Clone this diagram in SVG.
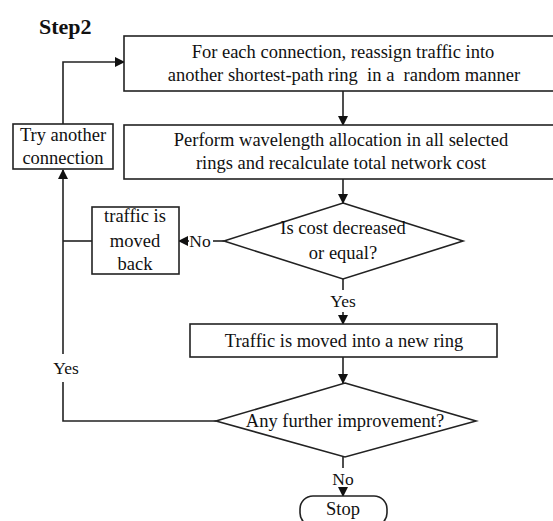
<svg xmlns="http://www.w3.org/2000/svg" width="553" height="521" viewBox="0 0 553 521">
<style>
.n{fill:#fff;stroke:#222;stroke-width:1.6}
.c{fill:none;stroke:#222;stroke-width:1.6}
text{font-family:"Liberation Serif","Times New Roman",serif;font-size:18.5px;fill:#111;text-anchor:middle}
.s{font-size:17.5px}
</style>
<defs>
<marker id="a" markerWidth="10" markerHeight="10" refX="9" refY="5" orient="auto" markerUnits="userSpaceOnUse">
<path d="M0,0 L10,5 L0,10 Z" fill="#111"/>
</marker>
</defs>
<rect width="553" height="521" fill="#fff"/>
<text x="39" y="34" style="font-size:22px;font-weight:bold;text-anchor:start">Step2</text>
<g id="connectors">
<line class="c" x1="343" y1="91" x2="343" y2="125" marker-end="url(#a)"/>
<line class="c" x1="343" y1="179" x2="343" y2="203" marker-end="url(#a)"/>
<line class="c" x1="343" y1="279" x2="343" y2="290"/>
<text class="s" x="343" y="307">Yes</text>
<line class="c" x1="343" y1="312" x2="343" y2="324" marker-end="url(#a)"/>
<line class="c" x1="343" y1="357" x2="343" y2="383" marker-end="url(#a)"/>
<line class="c" x1="343" y1="457" x2="343" y2="468"/>
<text class="s" x="343" y="485">No</text>
<line class="c" x1="343" y1="488" x2="343" y2="496" marker-end="url(#a)"/>
<line class="c" x1="224" y1="241" x2="213" y2="241"/>
<text class="s" x="200" y="247">No</text>
<line class="c" x1="189" y1="241" x2="179" y2="241" marker-end="url(#a)"/>
<line class="c" x1="92" y1="241" x2="63" y2="241"/>
<polyline class="c" points="216,421 63,421 63,382"/>
<text class="s" x="66" y="374">Yes</text>
<line class="c" x1="63" y1="354" x2="63" y2="170" marker-end="url(#a)"/>
<polyline class="c" points="63,124 63,62 124,62" marker-end="url(#a)"/>
</g>
<g id="n1">
<rect class="n" x="124" y="36" width="440" height="55"/>
<text x="343" y="58">For each connection, reassign traffic into</text>
<text x="344" y="81" xml:space="preserve">another shortest-path ring  in a  random manner</text>
</g>
<g id="n2">
<rect class="n" x="124" y="125" width="440" height="54"/>
<text x="341" y="146">Perform wavelength allocation in all selected</text>
<text x="341" y="169">rings and recalculate total network cost</text>
</g>
<g id="n3">
<polygon class="n" points="343,203 463,241 343,279 224,241"/>
<text x="343" y="234">Is cost decreased</text>
<text x="343" y="259">or equal?</text>
</g>
<g id="n4">
<rect class="n" x="92" y="207" width="87" height="67"/>
<text x="135" y="222">traffic is</text>
<text x="135" y="247">moved</text>
<text x="135" y="270">back</text>
</g>
<g id="n5">
<rect class="n" x="13" y="124" width="100" height="45"/>
<text x="63" y="141">Try another</text>
<text x="63" y="164">connection</text>
</g>
<g id="n6">
<rect class="n" x="190" y="324" width="307" height="33"/>
<text x="344" y="347">Traffic is moved into a new ring</text>
</g>
<g id="n7">
<polygon class="n" points="345,383 476,421 345,457 216,421"/>
<text x="345" y="427">Any further improvement?</text>
</g>
<g id="n8">
<rect class="n" x="300" y="496" width="87" height="30" rx="13"/>
<text x="343" y="515">Stop</text>
</g>
</svg>
